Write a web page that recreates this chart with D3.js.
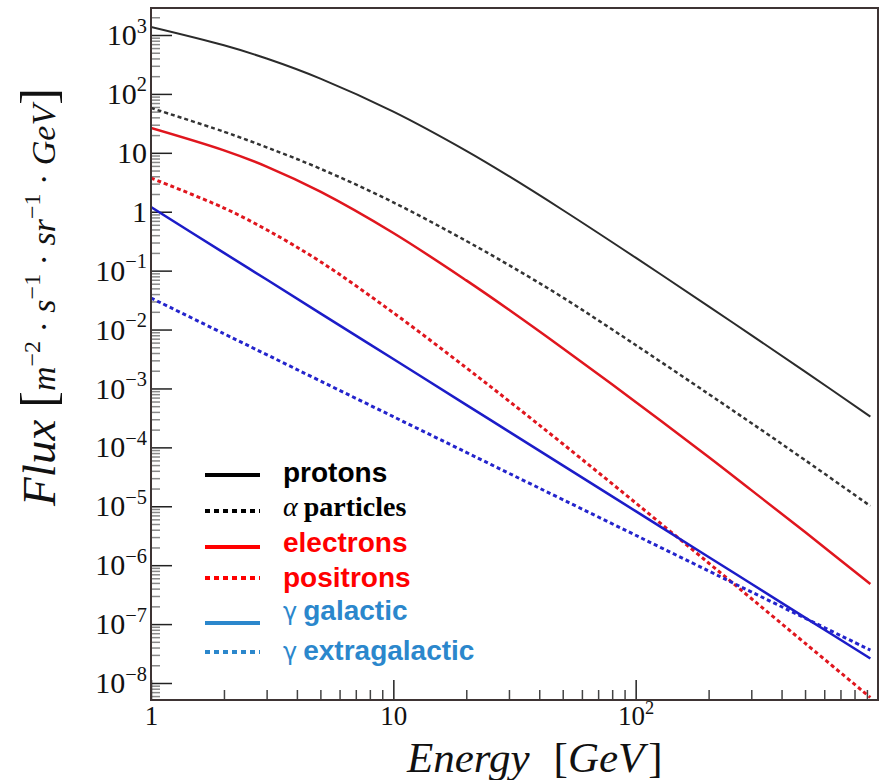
<!DOCTYPE html>
<html>
<head>
<meta charset="utf-8">
<script src="https://cdn.jsdelivr.net/npm/d3@7"></script>
<style>
  body { margin: 0; background: #fff; }
  svg { display: block; }
</style>
</head>
<body>
<svg id="chart"></svg>
<script>
const energy = [1, 2, 3, 5, 10, 20, 30, 50, 100, 200, 300, 500, 930];
// flux values, m^-2 s^-1 sr^-1 GeV^-1
const protons = [1368, 668, 399, 182, 50.0, 10.8, 4.01, 1.07, 0.166, 0.0247, 8.04e-3, 1.93e-3, 3.33e-4];
const alphas = [57.7, 22.8, 12.4, 5.37, 1.44, 0.319, 0.124, 0.0351, 5.46e-3, 8.04e-4, 2.59e-4, 6.08e-5, 1.01e-5];
const electrons = [26.4, 11.0, 5.85, 2.19, 0.435, 0.0684, 0.0217, 4.83e-3, 5.90e-4, 6.87e-5, 1.88e-5, 3.65e-6, 4.78e-7];
const positrons = [3.73, 1.156, 0.494, 0.142, 0.0193, 2.24e-3, 6.11e-4, 1.15e-4, 1.14e-5, 1.09e-6, 2.72e-7, 4.74e-8, 5.68e-9];
const gammaGal = [1.20, 0.200, 0.0706, 0.0188, 3.16e-3, 5.27e-4, 1.85e-4, 4.95e-5, 8.26e-6, 1.38e-6, 4.85e-7, 1.29e-7, 2.61e-8];
const gammaExtra = [0.0343, 8.49e-3, 3.75e-3, 1.34e-3, 3.32e-4, 8.22e-5, 3.63e-5, 1.30e-5, 3.22e-6, 7.98e-7, 3.52e-7, 1.26e-7, 3.61e-8];

const xTicks = [1, 10, 100];
const yTicks = [1e3, 1e2, 1e1, 1, 1e-1, 1e-2, 1e-3, 1e-4, 1e-5, 1e-6, 1e-7, 1e-8];

const W = 880, H = 780;
const plot = { left: 151, right: 878, top: 8, bottom: 700 };

const svg = d3.select("#chart").attr("width", W).attr("height", H);

const x = d3.scaleLog().domain([1, 1000]).range([plot.left, plot.right]);
const y = d3.scaleLog().domain([1e-8, 1e3]).range([683, 35]);

// minor ticks 2..9 in every decade that falls inside the frame
const yMinor = [];
for (let d = -9; d <= 3; d++) {
  for (let k = 2; k <= 9; k++) {
    const v = k * Math.pow(10, d);
    if (y(v) > plot.top + 1 && y(v) < plot.bottom - 1) yMinor.push(v);
  }
}
const xMinor = [];
for (let d = 0; d <= 2; d++) {
  for (let k = 2; k <= 9; k++) {
    const v = k * Math.pow(10, d);
    if (x(v) < plot.right - 1) xMinor.push(v);
  }
}

// 10^n labels with a real superscript
function powLabel(sel, size) {
  sel.each(function(d) {
    const t = d3.select(this).text(null);
    const e = Math.round(Math.log10(d));
    if (e === 0) { t.text("1"); return; }
    if (e === 1) { t.text("10"); return; }
    t.append("tspan").text("10");
    t.append("tspan")
      .attr("dy", -size * 0.42)
      .attr("font-size", size * 0.68)
      .text(e < 0 ? "\u2212" + (-e) : e);
  });
}

const tickFont = "'Liberation Serif', 'DejaVu Serif', serif";

// y axis
svg.append("g")
  .attr("transform", `translate(${plot.left},0)`)
  .call(d3.axisLeft(y).tickValues(yMinor).tickSize(-9).tickFormat(""))
  .call(g => g.select(".domain").remove())
  .call(g => g.selectAll("line").attr("stroke", "#8a8a8a").attr("stroke-width", 1.5));

svg.append("g")
  .attr("transform", `translate(${plot.left},0)`)
  .call(d3.axisLeft(y).tickValues(yTicks).tickSize(-21).tickPadding(4))
  .call(g => g.select(".domain").remove())
  .call(g => g.selectAll("line").attr("stroke", "#222").attr("stroke-width", 1.5))
  .call(g => g.selectAll("text")
    .attr("font-family", tickFont).attr("font-size", 30).attr("fill", "#111")
    .call(powLabel, 30));

// x axis
svg.append("g")
  .attr("transform", `translate(0,${plot.bottom})`)
  .call(d3.axisBottom(x).tickValues(xMinor).tickSize(-10).tickFormat(""))
  .call(g => g.select(".domain").remove())
  .call(g => g.selectAll("line").attr("stroke", "#444").attr("stroke-width", 1.5));

svg.append("g")
  .attr("transform", `translate(0,${plot.bottom})`)
  .call(d3.axisBottom(x).tickValues(xTicks).tickSize(-20).tickPadding(6))
  .call(g => g.select(".domain").remove())
  .call(g => g.selectAll("line").attr("stroke", "#222").attr("stroke-width", 1.5))
  .call(g => g.selectAll("text")
    .attr("font-family", tickFont).attr("font-size", 27).attr("fill", "#111")
    .call(powLabel, 27));

// curves
svg.append("clipPath").attr("id", "clip")
  .append("rect")
  .attr("x", plot.left).attr("y", plot.top)
  .attr("width", plot.right - plot.left).attr("height", plot.bottom - plot.top);

const line = d3.line()
  .x((d, i) => x(energy[i]))
  .y(d => y(d))
  .curve(d3.curveCatmullRom.alpha(0.5));

const curves = [
  { values: protons, color: "#2b2b2b", dash: null, width: 2 },
  { values: alphas, color: "#333", dash: "4,3", width: 2.5 },
  { values: electrons, color: "#e0161e", dash: null, width: 2.5 },
  { values: positrons, color: "#e0161e", dash: "4,3", width: 3 },
  { values: gammaGal, color: "#1c1cc8", dash: null, width: 2.5 },
  { values: gammaExtra, color: "#2424cc", dash: "4,3", width: 3 }
];

svg.append("g").attr("clip-path", "url(#clip)")
  .selectAll("path")
  .data(curves)
  .join("path")
  .attr("d", d => line(d.values))
  .attr("fill", "none")
  .attr("stroke", d => d.color)
  .attr("stroke-width", d => d.width)
  .attr("stroke-dasharray", d => d.dash);

// frame
svg.append("rect")
  .attr("x", plot.left).attr("y", plot.top)
  .attr("width", plot.right - plot.left).attr("height", plot.bottom - plot.top)
  .attr("fill", "none")
  .attr("stroke", "#3e3434")
  .attr("stroke-width", 2);

// legend
const legendRows = [
  { sym: null, label: "protons", color: "#000", dash: null, ly: 475, ty: 482 },
  { sym: "α", label: "particles", color: "#000", dash: "5,4", ly: 511, ty: 516, serif: true },
  { sym: null, label: "electrons", color: "#ff0000", dash: null, ly: 547, ty: 552 },
  { sym: null, label: "positrons", color: "#ff0000", dash: "5,4", ly: 578, ty: 587 },
  { sym: "γ", label: "galactic", color: "#2b87cc", dash: null, ly: 623, ty: 620 },
  { sym: "γ", label: "extragalactic", color: "#2b87cc", dash: "5,4", ly: 652, ty: 660 }
];

const legend = svg.append("g");
legend.selectAll("line")
  .data(legendRows)
  .join("line")
  .attr("x1", 205).attr("x2", 260)
  .attr("y1", d => d.ly).attr("y2", d => d.ly)
  .attr("stroke", d => d.color)
  .attr("stroke-width", 4)
  .attr("stroke-dasharray", d => d.dash);

legend.selectAll("text")
  .data(legendRows)
  .join("text")
  .attr("x", 283)
  .attr("y", d => d.ty)
  .attr("fill", d => d.color)
  .attr("font-size", 28)
  .attr("font-weight", "bold")
  .attr("font-family", d => d.serif ? "'Liberation Serif', serif" : "'Liberation Sans', Arial, sans-serif")
  .each(function(d) {
    const t = d3.select(this);
    if (d.sym === "α") {
      t.append("tspan").attr("font-style", "italic").attr("font-weight", "normal").text("α");
      t.append("tspan").attr("dx", 6).text(d.label);
    } else if (d.sym === "γ") {
      t.append("tspan").attr("font-weight", "normal").attr("font-family", "'DejaVu Sans', sans-serif").attr("font-size", 24).text("γ");
      t.append("tspan").attr("dx", 6).text(d.label);
    } else {
      t.text(d.label);
    }
  });

// axis titles
const titleFont = "'Liberation Serif', 'DejaVu Serif', serif";

const xt = svg.append("text")
  .attr("x", 407).attr("y", 772)
  .attr("font-family", titleFont).attr("font-size", 43).attr("fill", "#111");
xt.append("tspan").attr("font-style", "italic").text("Energy");
xt.append("tspan").attr("dx", 24).text("[");
xt.append("tspan").attr("font-style", "italic").text("GeV");
xt.append("tspan").attr("dx", 4).text("]");

const yt = svg.append("text")
  .attr("transform", "translate(55,297) rotate(-90)")
  .attr("text-anchor", "middle")
  .attr("font-family", titleFont).attr("font-size", 34).attr("fill", "#111");
yt.append("tspan").attr("font-style", "italic").attr("font-size", 47).text("Flux");
yt.append("tspan").attr("dx", 12).attr("font-size", 50).text("[");
yt.append("tspan").attr("font-style", "italic").text("m");
yt.append("tspan").attr("dy", -15).attr("font-size", 24).text("\u22122");
yt.append("tspan").attr("dy", 15).text(" · ");
yt.append("tspan").attr("font-style", "italic").text("s");
yt.append("tspan").attr("dy", -15).attr("font-size", 24).text("\u22121");
yt.append("tspan").attr("dy", 15).text(" · ");
yt.append("tspan").attr("font-style", "italic").text("sr");
yt.append("tspan").attr("dy", -15).attr("font-size", 24).text("\u22121");
yt.append("tspan").attr("dy", 15).text(" · ");
yt.append("tspan").attr("font-style", "italic").text("GeV");
yt.append("tspan").attr("font-size", 50).text("]");
</script>
</body>
</html>
